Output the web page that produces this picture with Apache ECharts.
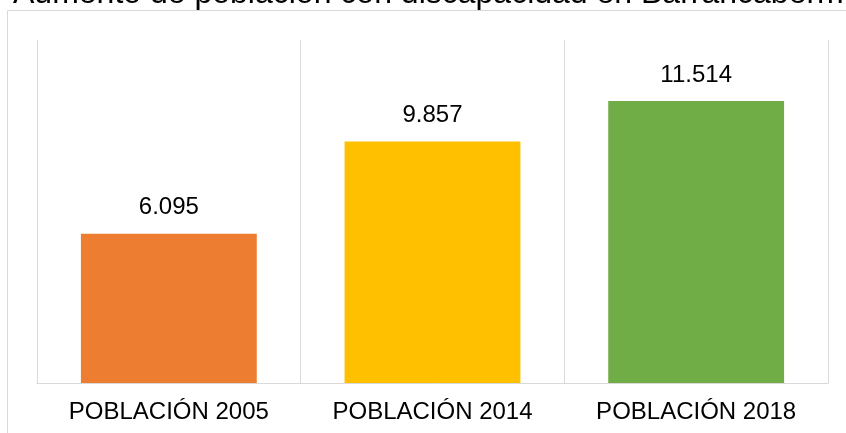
<!DOCTYPE html>
<html>
<head>
<meta charset="utf-8">
<script src="https://cdn.jsdelivr.net/npm/echarts@6/dist/echarts.min.js"></script>
<style>
  html, body { margin: 0; padding: 0; background: #fff; }
  #chart { width: 846px; height: 433px; }
</style>
</head>
<body>
<div id="chart"></div>
<script>
// data
var categories = ['POBLACIÓN 2005', 'POBLACIÓN 2014', 'POBLACIÓN 2018'];
var values = [6095, 9857, 11514];
var barColors = ['#ED7D31', '#FFC000', '#70AD47'];
var titleText = 'Aumento de población con discapacidad en Barrancabermeja';

var FONT = '"Liberation Sans", Arial, sans-serif';

// 6095 -> "6.095"
function fmtThousands(v) {
  return String(v).replace(/\B(?=(\d{3})+(?!\d))/g, '.');
}

var chart = echarts.init(document.getElementById('chart'));

chart.setOption({
  backgroundColor: '#fff',
  animation: false,
  title: {
    text: titleText,
    left: 13,
    top: -22,
    padding: 0,
    textStyle: {
      fontFamily: FONT,
      fontSize: 32,
      fontWeight: 'normal',
      color: '#000'
    }
  },
  // outer chart border (only its top and left edges are inside the crop)
  graphic: [{
    type: 'rect',
    shape: { x: 7.5, y: 10.5, width: 1000, height: 600 },
    style: { fill: 'none', stroke: '#D9D9D9', lineWidth: 1 },
    silent: true
  }],
  grid: {
    left: 37,
    right: 18,
    top: 40,
    bottom: 50
  },
  xAxis: {
    type: 'category',
    data: categories,
    axisLine: { show: true, lineStyle: { color: '#D9D9D9', width: 1 } },
    axisTick: { show: false },
    splitLine: { show: true, lineStyle: { color: '#D9D9D9', width: 1 } },
    axisLabel: {
      fontFamily: FONT,
      fontSize: 24,
      color: '#000',
      margin: 17
    }
  },
  yAxis: {
    type: 'value',
    min: 0,
    max: 14000,
    show: false,
    splitLine: { show: false }
  },
  series: [{
    type: 'bar',
    data: values.map(function(v, i) {
      return { value: v, itemStyle: { color: barColors[i] } };
    }),
    barWidth: '66.7%',
    label: {
      show: true,
      position: 'top',
      distance: 14,
      fontFamily: FONT,
      fontSize: 24,
      color: '#000',
      formatter: function(p) {
        return fmtThousands(p.value);
      }
    }
  }]
});
</script>
</body>
</html>
